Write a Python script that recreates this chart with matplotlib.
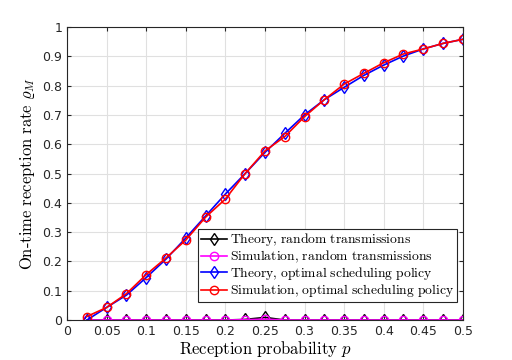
import matplotlib
matplotlib.use('Agg')
import matplotlib.pyplot as plt
import numpy as np

plt.rcParams['mathtext.fontset'] = 'cm'
plt.rcParams['font.family'] = ['DejaVu Sans']

# reception probability
p = [0.025, 0.05, 0.075, 0.1, 0.125, 0.15, 0.175, 0.2, 0.225, 0.25,
     0.275, 0.3, 0.325, 0.35, 0.375, 0.4, 0.425, 0.45, 0.475, 0.5]

theory_random = [0, 0, 0, 0, 0, 0, 0, 0, 0.002, 0.009,
                 0, 0, 0, 0, 0, 0, 0, 0, 0, 0]
sim_random = [0, 0, 0, 0, 0, 0, 0, 0, 0.001, 0.003,
              0, 0, 0, 0, 0, 0, 0, 0, 0, 0]
theory_opt = [0.0, 0.043, 0.085, 0.145, 0.208, 0.28, 0.355, 0.43, 0.50, 0.572,
              0.637, 0.70, 0.752, 0.794, 0.835, 0.870, 0.901, 0.925, 0.944, 0.958]
sim_opt = [0.012, 0.043, 0.09, 0.155, 0.212, 0.273, 0.351, 0.413, 0.50, 0.577,
           0.626, 0.694, 0.752, 0.805, 0.842, 0.878, 0.908, 0.925, 0.944, 0.958]

labels = ['Theory, random transmissions', 'Simulation, random transmissions',
          'Theory, optimal scheduling policy', 'Simulation, optimal scheduling policy']


def tex(s):
    # roman text in computer modern, commas without math spacing
    return r'$\mathrm{' + s.replace(',', '{,}').replace(' ', r'\ ') + '}$'


fig = plt.figure(figsize=(5.12, 3.6), dpi=100)
ax = fig.add_axes([0.131, 0.111, 0.773, 0.814])

ax.plot(p, theory_random, '-d', color='k', mfc='none', ms=6, lw=1.2, label=tex(labels[0]))
ax.plot(p, sim_random, '-o', color='#ff00ff', mfc='none', ms=6, lw=1.2, label=tex(labels[1]))
ax.plot(p, theory_opt, '-d', color='b', mfc='none', ms=6, lw=1.2, label=tex(labels[2]))
ax.plot(p, sim_opt, '-o', color='r', mfc='none', ms=6, lw=1.2, label=tex(labels[3]))

ax.set_xlim(0, 0.5)
ax.set_ylim(0, 1)
ax.set_xticks(np.arange(0, 0.51, 0.05))
ax.set_xticklabels(['0', '0.05', '0.1', '0.15', '0.2', '0.25', '0.3', '0.35', '0.4', '0.45', '0.5'])
ax.set_yticks(np.arange(0, 1.01, 0.1))
ax.set_yticklabels(['0', '0.1', '0.2', '0.3', '0.4', '0.5', '0.6', '0.7', '0.8', '0.9', '1'])
ax.tick_params(labelsize=9, direction='in', length=3, colors='#262626')
ax.tick_params(top=True, right=True)
ax.grid(True, color='#e0e0e0', lw=0.8)
ax.set_axisbelow(True)
for s in ax.spines.values():
    s.set_color('#262626')
    s.set_linewidth(0.8)

ax.set_xlabel(r'$\mathrm{Reception\ probability}\ p$', fontsize=12, labelpad=1)
ax.set_ylabel(r'$\mathrm{On\text{-}time\ reception\ rate}\ \varrho_M$', fontsize=12, labelpad=4)

leg = ax.legend(loc='lower right', bbox_to_anchor=(0.985, 0.061), fontsize=9.8,
                fancybox=False, framealpha=1, edgecolor='#262626',
                borderpad=0.2, labelspacing=0.02, handlelength=1.9, handletextpad=0.25,
                borderaxespad=0)
leg.get_frame().set_linewidth(0.8)

fig.savefig('out.png', dpi=100)
